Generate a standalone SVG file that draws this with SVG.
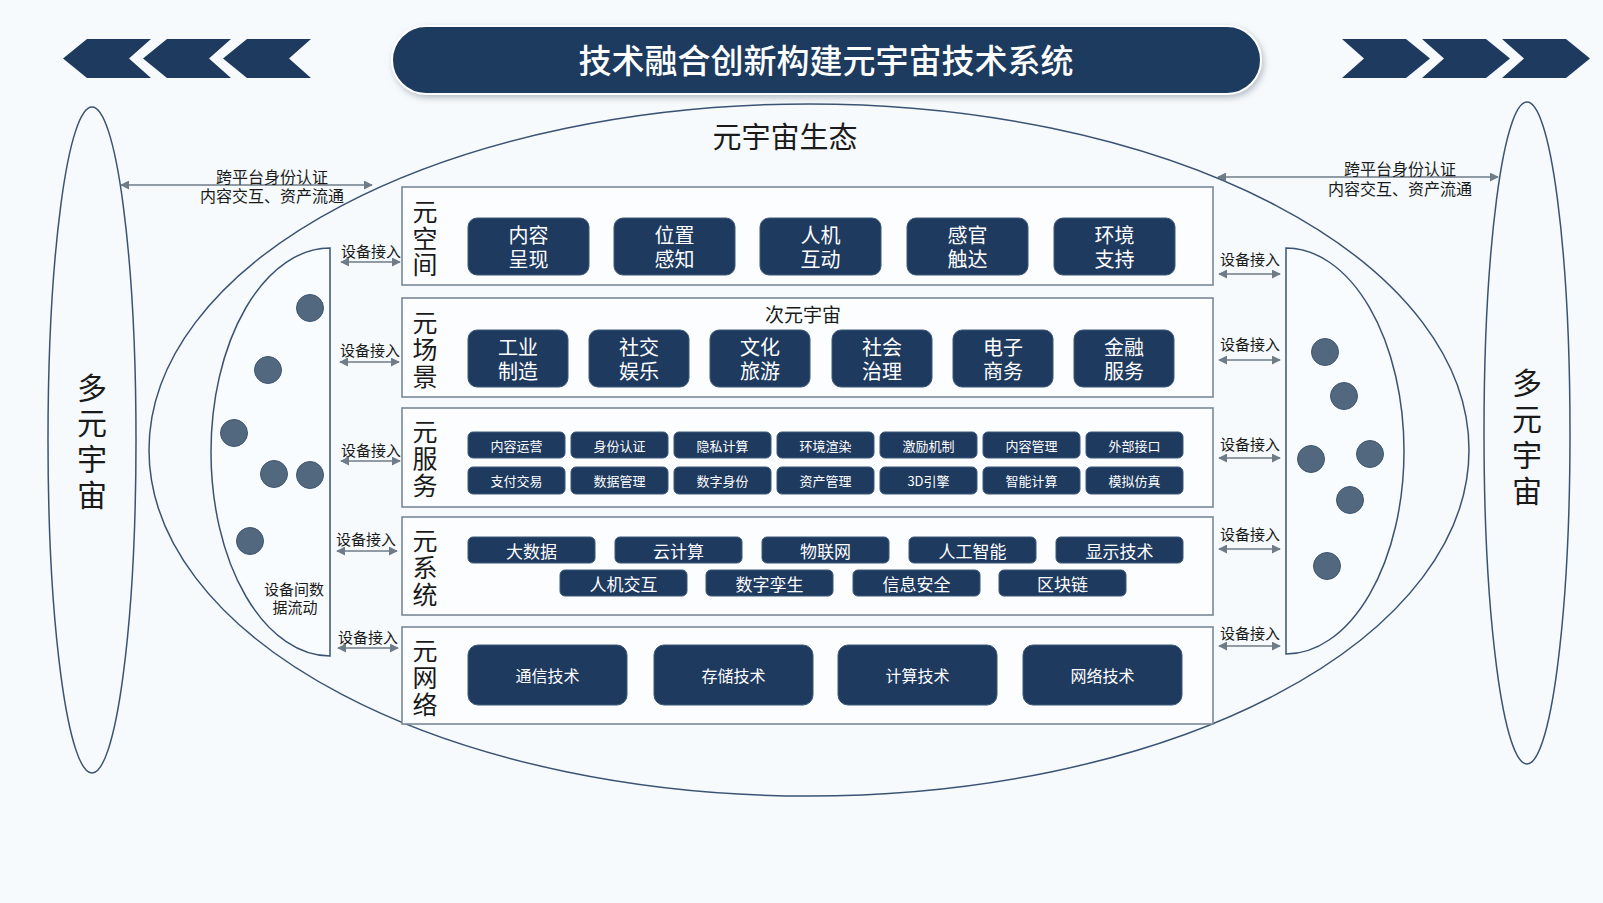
<svg xmlns="http://www.w3.org/2000/svg" width="1603" height="903" viewBox="0 0 1603 903">
<style>
text{font-family:"Noto Sans CJK SC","Liberation Sans",sans-serif;dominant-baseline:central;text-anchor:middle}
.bg{fill:#f6fafd}
.outline{fill:none;stroke:#3b5372;stroke-width:1.5}
.dshape{fill:#f9fcfe;stroke:#3b5372;stroke-width:1.5}
.layer{fill:#fbfdfe;stroke:#7b8898;stroke-width:1.6}
.node{fill:#1e3a5f;stroke:#3d5878;stroke-width:1}
.nt{fill:#ffffff}
.lab{fill:#1a1a1a}
.dot{fill:#52687f;stroke:#405670;stroke-width:1}
.chev{fill:#1e3a5f}
.arr{stroke:#6f7b87;stroke-width:1.6;fill:none;marker-start:url(#ah);marker-end:url(#ah)}
</style>
<defs>
<marker id="ah" viewBox="0 0 10 10" refX="9" refY="5" markerWidth="9" markerHeight="9" markerUnits="userSpaceOnUse" orient="auto-start-reverse">
<path d="M0,0 L10,5 L0,10 z" fill="#6f7b87"/>
</marker>
<filter id="sh" x="-5%" y="-30%" width="110%" height="160%">
<feDropShadow dx="2" dy="3" stdDeviation="3" flood-color="#8a96a3" flood-opacity="0.6"/>
</filter>
</defs>
<rect class="bg" x="0" y="0" width="1603" height="903"/>

<g id="chevrons-left">
<path class="chev" d="M63,58.5 L87,39 L151,39 L129,58.5 L151,78 L87,78 z"/>
<path class="chev" d="M143,58.5 L167,39 L231,39 L209,58.5 L231,78 L167,78 z"/>
<path class="chev" d="M223,58.5 L247,39 L311,39 L289,58.5 L311,78 L247,78 z"/>
</g>
<g id="chevrons-right">
<path class="chev" d="M1342,39 L1406,39 L1430,58.5 L1406,78 L1342,78 L1364,58.5 z"/>
<path class="chev" d="M1422,39 L1486,39 L1510,58.5 L1486,78 L1422,78 L1444,58.5 z"/>
<path class="chev" d="M1502,39 L1566,39 L1590,58.5 L1566,78 L1502,78 L1524,58.5 z"/>
</g>

<g id="title">
<rect x="392" y="26" width="869" height="68" rx="34" fill="#1e3a5f" stroke="#ffffff" stroke-width="2" filter="url(#sh)"/>
<text x="826" y="59" font-size="33" font-weight="500" fill="#ffffff">技术融合创新构建元宇宙技术系统</text>
</g>

<g id="ecosystem">
<ellipse class="outline" cx="809" cy="450" rx="660" ry="346"/>
<text class="lab" x="785" y="135" font-size="29">元宇宙生态</text>
</g>

<g id="multiverse-left">
<ellipse class="outline" cx="92" cy="440" rx="44" ry="333"/>
<text class="lab" x="92" font-size="30"><tspan x="92" y="386">多</tspan><tspan x="92" y="421">元</tspan><tspan x="92" y="457">宇</tspan><tspan x="92" y="493">宙</tspan></text>
</g>
<g id="multiverse-right">
<ellipse class="outline" cx="1527" cy="433" rx="43" ry="331"/>
<text class="lab" x="1527" font-size="30"><tspan x="1527" y="381">多</tspan><tspan x="1527" y="417">元</tspan><tspan x="1527" y="453">宇</tspan><tspan x="1527" y="489">宙</tspan></text>
</g>

<g id="device-left">
<path class="dshape" d="M330,248 L330,656 A119,204 0 0 1 330,248 z"/>
<circle class="dot" cx="310" cy="308" r="13.5"/>
<circle class="dot" cx="268" cy="370" r="13.5"/>
<circle class="dot" cx="234" cy="433" r="13.5"/>
<circle class="dot" cx="274" cy="474" r="13.5"/>
<circle class="dot" cx="310" cy="475" r="13.5"/>
<circle class="dot" cx="250" cy="541" r="13.5"/>
<text class="lab" font-size="15"><tspan x="294" y="588">设备间数</tspan><tspan x="295" y="606">据流动</tspan></text>
</g>
<g id="device-right">
<path class="dshape" d="M1286,248 L1286,654 A118,203 0 0 0 1286,248 z"/>
<circle class="dot" cx="1325" cy="352" r="13.5"/>
<circle class="dot" cx="1344" cy="396" r="13.5"/>
<circle class="dot" cx="1311" cy="459" r="13.5"/>
<circle class="dot" cx="1370" cy="454" r="13.5"/>
<circle class="dot" cx="1350" cy="500" r="13.5"/>
<circle class="dot" cx="1327" cy="566" r="13.5"/>
</g>

<g id="connectors">
<line class="arr" x1="121" y1="185" x2="372" y2="185"/>
<text class="lab" x="272" y="176" font-size="16">跨平台身份认证</text>
<text class="lab" x="272" y="195" font-size="16">内容交互、资产流通</text>
<line class="arr" x1="1218" y1="177" x2="1498" y2="177"/>
<text class="lab" x="1400" y="168" font-size="16">跨平台身份认证</text>
<text class="lab" x="1400" y="188" font-size="16">内容交互、资产流通</text>

<line class="arr" x1="341" y1="262" x2="400" y2="262"/>
<text class="lab" x="371" y="250" font-size="15">设备接入</text>
<line class="arr" x1="340" y1="362" x2="399" y2="362"/>
<text class="lab" x="370" y="349" font-size="15">设备接入</text>
<line class="arr" x1="341" y1="461" x2="400" y2="461"/>
<text class="lab" x="371" y="449" font-size="15">设备接入</text>
<line class="arr" x1="337" y1="551" x2="397" y2="551"/>
<text class="lab" x="366" y="538" font-size="15">设备接入</text>
<line class="arr" x1="338" y1="648" x2="398" y2="648"/>
<text class="lab" x="368" y="636" font-size="15">设备接入</text>

<line class="arr" x1="1219" y1="274" x2="1280" y2="274"/>
<text class="lab" x="1250" y="258" font-size="15">设备接入</text>
<line class="arr" x1="1219" y1="360" x2="1280" y2="360"/>
<text class="lab" x="1250" y="343" font-size="15">设备接入</text>
<line class="arr" x1="1219" y1="458" x2="1280" y2="458"/>
<text class="lab" x="1250" y="443" font-size="15">设备接入</text>
<line class="arr" x1="1219" y1="549" x2="1280" y2="549"/>
<text class="lab" x="1250" y="533" font-size="15">设备接入</text>
<line class="arr" x1="1219" y1="646" x2="1280" y2="646"/>
<text class="lab" x="1250" y="632" font-size="15">设备接入</text>
</g>

<g id="layer-space">
<rect class="layer" x="402" y="187" width="811" height="98"/>
<text class="lab" font-size="25"><tspan x="425" y="210">元</tspan><tspan x="425" y="237">空</tspan><tspan x="425" y="263">间</tspan></text>
</g>
<g id="n-neirongchengxian"><rect class="node" x="468" y="218" width="121" height="57" rx="9"/><text class="nt" font-size="20"><tspan x="528.5" y="234">内容</tspan><tspan x="528.5" y="258">呈现</tspan></text></g>
<g id="n-weizhiganzhi"><rect class="node" x="614" y="218" width="121" height="57" rx="9"/><text class="nt" font-size="20"><tspan x="674.5" y="234">位置</tspan><tspan x="674.5" y="258">感知</tspan></text></g>
<g id="n-renjihudong"><rect class="node" x="760" y="218" width="121" height="57" rx="9"/><text class="nt" font-size="20"><tspan x="820.5" y="234">人机</tspan><tspan x="820.5" y="258">互动</tspan></text></g>
<g id="n-ganguanchuda"><rect class="node" x="907" y="218" width="121" height="57" rx="9"/><text class="nt" font-size="20"><tspan x="967.5" y="234">感官</tspan><tspan x="967.5" y="258">触达</tspan></text></g>
<g id="n-huanjingzhichi"><rect class="node" x="1054" y="218" width="121" height="57" rx="9"/><text class="nt" font-size="20"><tspan x="1114.5" y="234">环境</tspan><tspan x="1114.5" y="258">支持</tspan></text></g>

<g id="layer-scene">
<rect class="layer" x="402" y="298" width="811" height="99"/>
<text class="lab" font-size="25"><tspan x="425" y="321">元</tspan><tspan x="425" y="348">场</tspan><tspan x="425" y="375">景</tspan></text>
<text class="lab" x="803" y="313" font-size="19">次元宇宙</text>
</g>
<g id="n-gongye"><rect class="node" x="468" y="330" width="100" height="57" rx="9"/><text class="nt" font-size="20"><tspan x="518" y="346">工业</tspan><tspan x="518" y="370">制造</tspan></text></g>
<g id="n-shejiao"><rect class="node" x="589" y="330" width="100" height="57" rx="9"/><text class="nt" font-size="20"><tspan x="639" y="346">社交</tspan><tspan x="639" y="370">娱乐</tspan></text></g>
<g id="n-wenhua"><rect class="node" x="710" y="330" width="100" height="57" rx="9"/><text class="nt" font-size="20"><tspan x="760" y="346">文化</tspan><tspan x="760" y="370">旅游</tspan></text></g>
<g id="n-shehui"><rect class="node" x="832" y="330" width="100" height="57" rx="9"/><text class="nt" font-size="20"><tspan x="882" y="346">社会</tspan><tspan x="882" y="370">治理</tspan></text></g>
<g id="n-dianzi"><rect class="node" x="953" y="330" width="100" height="57" rx="9"/><text class="nt" font-size="20"><tspan x="1003" y="346">电子</tspan><tspan x="1003" y="370">商务</tspan></text></g>
<g id="n-jinrong"><rect class="node" x="1074" y="330" width="100" height="57" rx="9"/><text class="nt" font-size="20"><tspan x="1124" y="346">金融</tspan><tspan x="1124" y="370">服务</tspan></text></g>

<g id="layer-service">
<rect class="layer" x="402" y="408" width="811" height="99"/>
<text class="lab" font-size="25"><tspan x="425" y="430">元</tspan><tspan x="425" y="457">服</tspan><tspan x="425" y="484">务</tspan></text>
</g>
<g id="n-s1"><rect class="node" x="468" y="432" width="97" height="26" rx="5"/><text class="nt" x="516.5" y="445" font-size="13">内容运营</text></g>
<g id="n-s2"><rect class="node" x="571" y="432" width="97" height="26" rx="5"/><text class="nt" x="619.5" y="445" font-size="13">身份认证</text></g>
<g id="n-s3"><rect class="node" x="674" y="432" width="97" height="26" rx="5"/><text class="nt" x="722.5" y="445" font-size="13">隐私计算</text></g>
<g id="n-s4"><rect class="node" x="777" y="432" width="97" height="26" rx="5"/><text class="nt" x="825.5" y="445" font-size="13">环境渲染</text></g>
<g id="n-s5"><rect class="node" x="880" y="432" width="97" height="26" rx="5"/><text class="nt" x="928.5" y="445" font-size="13">激励机制</text></g>
<g id="n-s6"><rect class="node" x="983" y="432" width="97" height="26" rx="5"/><text class="nt" x="1031.5" y="445" font-size="13">内容管理</text></g>
<g id="n-s7"><rect class="node" x="1086" y="432" width="97" height="26" rx="5"/><text class="nt" x="1134.5" y="445" font-size="13">外部接口</text></g>
<g id="n-s8"><rect class="node" x="468" y="467" width="97" height="27" rx="5"/><text class="nt" x="516.5" y="480.5" font-size="13">支付交易</text></g>
<g id="n-s9"><rect class="node" x="571" y="467" width="97" height="27" rx="5"/><text class="nt" x="619.5" y="480.5" font-size="13">数据管理</text></g>
<g id="n-s10"><rect class="node" x="674" y="467" width="97" height="27" rx="5"/><text class="nt" x="722.5" y="480.5" font-size="13">数字身份</text></g>
<g id="n-s11"><rect class="node" x="777" y="467" width="97" height="27" rx="5"/><text class="nt" x="825.5" y="480.5" font-size="13">资产管理</text></g>
<g id="n-s12"><rect class="node" x="880" y="467" width="97" height="27" rx="5"/><text class="nt" x="928.5" y="480.5" font-size="13">3D引擎</text></g>
<g id="n-s13"><rect class="node" x="983" y="467" width="97" height="27" rx="5"/><text class="nt" x="1031.5" y="480.5" font-size="13">智能计算</text></g>
<g id="n-s14"><rect class="node" x="1086" y="467" width="97" height="27" rx="5"/><text class="nt" x="1134.5" y="480.5" font-size="13">模拟仿真</text></g>

<g id="layer-system">
<rect class="layer" x="402" y="517" width="811" height="98"/>
<text class="lab" font-size="25"><tspan x="425" y="539">元</tspan><tspan x="425" y="566">系</tspan><tspan x="425" y="593">统</tspan></text>
</g>
<g id="n-y1"><rect class="node" x="468" y="537" width="127" height="26" rx="5"/><text class="nt" x="531.5" y="550" font-size="17">大数据</text></g>
<g id="n-y2"><rect class="node" x="615" y="537" width="127" height="26" rx="5"/><text class="nt" x="678.5" y="550" font-size="17">云计算</text></g>
<g id="n-y3"><rect class="node" x="762" y="537" width="127" height="26" rx="5"/><text class="nt" x="825.5" y="550" font-size="17">物联网</text></g>
<g id="n-y4"><rect class="node" x="909" y="537" width="127" height="26" rx="5"/><text class="nt" x="972.5" y="550" font-size="17">人工智能</text></g>
<g id="n-y5"><rect class="node" x="1056" y="537" width="127" height="26" rx="5"/><text class="nt" x="1119.5" y="550" font-size="17">显示技术</text></g>
<g id="n-y6"><rect class="node" x="560" y="570" width="127" height="26" rx="5"/><text class="nt" x="623.5" y="583" font-size="17">人机交互</text></g>
<g id="n-y7"><rect class="node" x="706" y="570" width="127" height="26" rx="5"/><text class="nt" x="769.5" y="583" font-size="17">数字孪生</text></g>
<g id="n-y8"><rect class="node" x="853" y="570" width="127" height="26" rx="5"/><text class="nt" x="916.5" y="583" font-size="17">信息安全</text></g>
<g id="n-y9"><rect class="node" x="999" y="570" width="127" height="26" rx="5"/><text class="nt" x="1062.5" y="583" font-size="17">区块链</text></g>

<g id="layer-network">
<rect class="layer" x="402" y="627" width="811" height="97"/>
<text class="lab" font-size="25"><tspan x="425" y="649">元</tspan><tspan x="425" y="676">网</tspan><tspan x="425" y="703">络</tspan></text>
</g>
<g id="n-w1"><rect class="node" x="468" y="645" width="159" height="60" rx="10"/><text class="nt" x="547.5" y="675" font-size="16">通信技术</text></g>
<g id="n-w2"><rect class="node" x="654" y="645" width="159" height="60" rx="10"/><text class="nt" x="733.5" y="675" font-size="16">存储技术</text></g>
<g id="n-w3"><rect class="node" x="838" y="645" width="159" height="60" rx="10"/><text class="nt" x="917.5" y="675" font-size="16">计算技术</text></g>
<g id="n-w4"><rect class="node" x="1023" y="645" width="159" height="60" rx="10"/><text class="nt" x="1102.5" y="675" font-size="16">网络技术</text></g>
</svg>
